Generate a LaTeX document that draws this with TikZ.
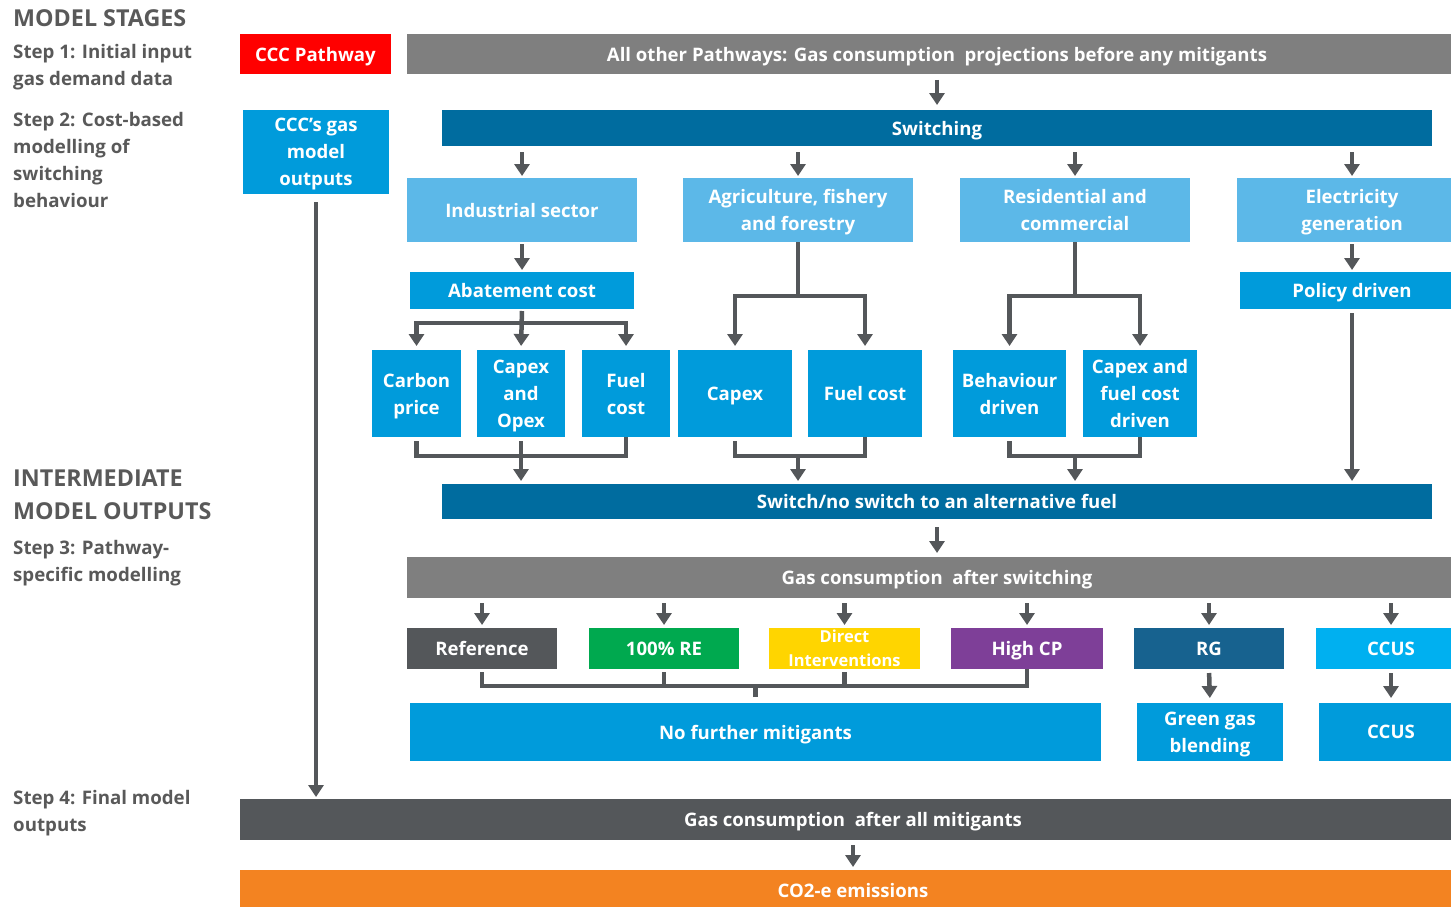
\documentclass[tikz,border=0pt]{standalone}
\usepackage{fontspec}
\setmainfont{Open Sans}
\usetikzlibrary{arrows.meta}

\definecolor{cccred}{HTML}{FF0000}
\definecolor{bargray}{HTML}{7F7F7F}
\definecolor{darkblue}{HTML}{006C9F}
\definecolor{midblue}{HTML}{009BDB}
\definecolor{lightblue}{HTML}{5CB8E8}
\definecolor{darkgray}{HTML}{54575A}
\definecolor{linegray}{HTML}{54575A}
\definecolor{stagegray}{HTML}{595959}
\definecolor{regreen}{HTML}{00A94F}
\definecolor{diryellow}{HTML}{FFD500}
\definecolor{cppurple}{HTML}{7E3F98}
\definecolor{rgblue}{HTML}{17628F}
\definecolor{ccusblue}{HTML}{00B0F0}
\definecolor{co2orange}{HTML}{F38321}

\newcommand\bxfont{\fontsize{18.6}{27}\selectfont\bfseries}
\newcommand\stgfont{\fontsize{18.7}{27}\selectfont\bfseries}
\newcommand\hdfont{\fontsize{23.3}{33}\selectfont\bfseries}

\tikzset{
  box/.style={rectangle, inner sep=2pt, outer sep=0pt, text=white, align=center, font=\bxfont, text depth=0pt},
  ln/.style={draw=linegray, line width=4.5pt},
  arr/.style={ln, -{Triangle[width=15pt,length=12pt]}},
  stage/.style={anchor=west, inner sep=0pt, align=left, text=stagegray, font=\stgfont},
}

\begin{document}
\begin{tikzpicture}[x=1pt,y=-1pt]
  \clip (0,0) rectangle (1451,907);

  % stage labels
  \node[stage, font=\hdfont] (hdstages) at (13,18) {MODEL STAGES};
  \node[stage] (step1) at (13,67.5) {Step 1: Initial input\\gas demand data};
  \node[stage] (step2) at (13,159.5) {Step 2: Cost-based\\modelling of\\switching\\behaviour};
  \node[stage, font=\hdfont] (hdinter) at (13,494.5) {INTERMEDIATE\\MODEL OUTPUTS};
  \node[stage] (step3) at (13,563.5) {Step 3: Pathway-\\specific modelling};
  \node[stage] (step4) at (13,813.5) {Step 4: Final model\\outputs};

  % step 1
  \node[box, fill=cccred, minimum width=151pt, minimum height=40pt] (cccpath) at (315.5,54) {CCC Pathway};
  \node[box, fill=bargray, minimum width=1060pt, minimum height=40pt] (allpath) at (937,54) {All other Pathways: Gas consumption \ projections before any mitigants};

  % step 2
  \node[box, fill=midblue, minimum width=146pt, minimum height=84pt] (cccout) at (316,152) {CCC’s gas\\model\\outputs};
  \node[box, fill=darkblue, minimum width=990pt, minimum height=36pt] (switching) at (937,128) {Switching};

  \node[box, fill=lightblue, minimum width=230pt, minimum height=64pt] (ind) at (522,210) {Industrial sector};
  \node[box, fill=lightblue, minimum width=230pt, minimum height=64pt] (agri) at (798,210) {Agriculture, fishery\\and forestry};
  \node[box, fill=lightblue, minimum width=230pt, minimum height=64pt] (resi) at (1075,210) {Residential and\\commercial};
  \node[box, fill=lightblue, minimum width=230pt, minimum height=64pt] (elec) at (1352,210) {Electricity\\generation};

  \node[box, fill=midblue, minimum width=224pt, minimum height=37pt] (abate) at (522,290.5) {Abatement cost};
  \node[box, fill=midblue, minimum width=224pt, minimum height=37pt] (policy) at (1352,290.5) {Policy driven};

  \node[box, fill=midblue, minimum width=89pt, minimum height=87pt] (carbon) at (416.5,393.5) {Carbon\\price};
  \node[box, fill=midblue, minimum width=88pt, minimum height=87pt] (capop) at (521,393.5) {Capex\\and\\Opex};
  \node[box, fill=midblue, minimum width=88pt, minimum height=87pt] (fuela) at (626,393.5) {Fuel\\cost};
  \node[box, fill=midblue, minimum width=114pt, minimum height=87pt] (capexb) at (735,393.5) {Capex};
  \node[box, fill=midblue, minimum width=114pt, minimum height=87pt] (fuelb) at (865,393.5) {Fuel cost};
  \node[box, fill=midblue, minimum width=113pt, minimum height=87pt] (behav) at (1009.5,393.5) {Behaviour\\driven};
  \node[box, fill=midblue, minimum width=114pt, minimum height=87pt] (capfuel) at (1140,393.5) {Capex and\\fuel cost\\driven};

  \node[box, fill=darkblue, minimum width=990pt, minimum height=35pt] (switchno) at (937,501.5) {Switch/no switch to an alternative fuel};

  % step 3
  \node[box, fill=bargray, minimum width=1060pt, minimum height=41pt] (gasafter) at (937,577.5) {Gas consumption \ after switching};
  \node[box, fill=darkgray, minimum width=150pt, minimum height=41pt] (ref) at (482,648.5) {Reference};
  \node[box, fill=regreen, minimum width=150pt, minimum height=41pt] (re) at (664,648.5) {100\% RE};
  \node[box, fill=diryellow, minimum width=151pt, minimum height=41pt, font=\fontsize{16.5}{24}\selectfont\bfseries] (direct) at (844.5,648.5) {Direct\\Interventions};
  \node[box, fill=cppurple, minimum width=152pt, minimum height=41pt] (highcp) at (1027,648.5) {High CP};
  \node[box, fill=rgblue, minimum width=150pt, minimum height=41pt] (rg) at (1209,648.5) {RG};
  \node[box, fill=ccusblue, minimum width=150pt, minimum height=41pt] (ccus) at (1391,648.5) {CCUS};

  \node[box, fill=midblue, minimum width=691pt, minimum height=58pt] (nofurther) at (755.5,732) {No further mitigants};
  \node[box, fill=midblue, minimum width=146pt, minimum height=58pt] (green) at (1210,732) {Green gas\\blending};
  \node[box, fill=midblue, minimum width=144pt, minimum height=58pt] (ccusb) at (1391,732) {CCUS};

  % step 4
  \node[box, fill=darkgray, minimum width=1226pt, minimum height=41pt] (final) at (853,819.5) {Gas consumption \ after all mitigants};
  \node[box, fill=co2orange, minimum width=1226pt, minimum height=40pt] (co2) at (853,890) {CO2-e emissions};

  % connectors
  \draw[arr, shorten <=6pt, shorten >=5pt] (allpath.south) -- (switching.north);
  \foreach \s in {ind,agri,resi,elec}
    \draw[arr, shorten <=6pt, shorten >=2pt] (switching.south -| \s.north) -- (\s.north);
  \draw[arr, shorten <=2pt, shorten >=2pt] (ind.south) -- (abate.north);
  \draw[arr, shorten <=2pt, shorten >=2pt] (elec.south) -- (policy.north);

  \draw[arr, shorten <=2pt, shorten >=4pt] (abate.south) -- ++(0,14) -| (carbon.north);
  \draw[arr, shorten <=2pt, shorten >=4pt] (abate.south) -- ++(0,14) -| (fuela.north);
  \draw[arr, shorten <=2pt, shorten >=4pt] (abate.south) -- (capop.north);
  \draw[arr, shorten >=4pt] (agri.south) -- ++(0,54) -| (capexb.north);
  \draw[arr, shorten >=4pt] (agri.south) -- ++(0,54) -| (fuelb.north);
  \draw[arr, shorten >=4pt] (resi.south) -- ++(0,54) -| (behav.north);
  \draw[arr, shorten >=4pt] (resi.south) -- ++(0,54) -| (capfuel.north);

  \draw[ln, shorten <=4pt] (carbon.south) -- ++(0,19) coordinate (ja) -| (fuela.south);
  \draw[arr, shorten <=4pt, shorten >=3pt] (capop.south) -- (capop.south |- switchno.north);
  \draw[ln, shorten <=4pt] (capexb.south) -- ++(0,19) coordinate (jb) -| (fuelb.south);
  \draw[arr, shorten >=3pt] (jb -| agri.south) -- (agri.south |- switchno.north);
  \draw[ln, shorten <=4pt] (behav.south) -- ++(0,19) coordinate (jc) -| (capfuel.south);
  \draw[arr, shorten >=3pt] (jc -| resi.south) -- (resi.south |- switchno.north);
  \draw[arr, shorten <=4pt, shorten >=3pt] (policy.south) -- (policy.south |- switchno.north);

  \draw[arr, shorten <=8pt, shorten >=4pt] (switchno.south) -- (gasafter.north);
  \foreach \s in {ref,re,direct,highcp,rg,ccus}
    \draw[arr, shorten <=5pt, shorten >=3pt] (gasafter.south -| \s.north) -- (\s.north);

  \draw[ln, shorten <=3pt] (ref.south) -- ++(0,17) -| (highcp.south);
  \draw[ln, shorten <=3pt] (re.south) -- ++(0,17);
  \draw[ln, shorten <=3pt] (direct.south) -- ++(0,17);
  \draw[ln, shorten <=6pt] (nofurther.north) -- ++(0,-17);
  \draw[arr, shorten <=4pt, shorten >=5pt] (rg.south) -- (green.north);
  \draw[arr, shorten <=4pt, shorten >=5pt] (ccus.south) -- (ccusb.north);

  \draw[arr, shorten <=8pt, shorten >=2pt] (cccout.south) -- (cccout.south |- final.north);
  \draw[arr, shorten <=5pt, shorten >=3pt] (final.south) -- (co2.north);
\end{tikzpicture}
\end{document}
